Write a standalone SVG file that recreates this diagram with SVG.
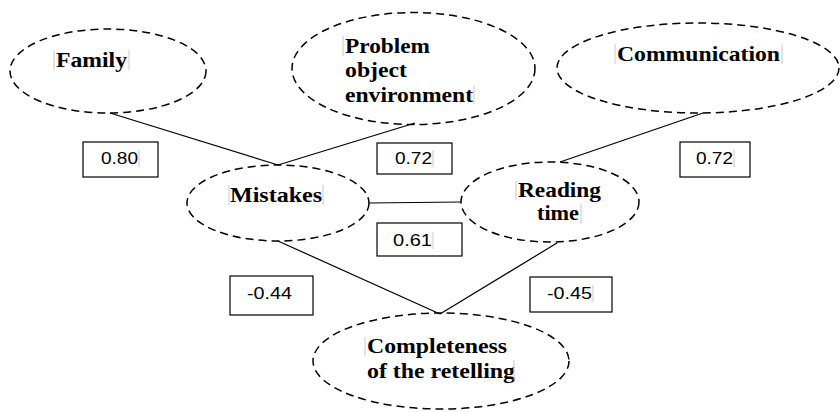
<svg xmlns="http://www.w3.org/2000/svg" width="840" height="412" viewBox="0 0 840 412">
<style>
.node ellipse{fill:none;stroke:#000;stroke-width:1.5;stroke-dasharray:8 5}
.lbl{font-family:"Liberation Serif","Times New Roman",serif;font-weight:bold;font-size:21px;fill:#000}
.edges line{stroke:#000;stroke-width:1.2}
.box rect{fill:#fff;stroke:#000;stroke-width:1.2}
.num{font-family:"Liberation Sans",Arial,sans-serif;font-size:17px;fill:#000}
.cur line{stroke:#c8c8c8;stroke-width:1}
</style>
<rect width="840" height="412" fill="#fff"/>
<g id="connectors" class="edges">
<line x1="110" y1="113" x2="278" y2="165"/>
<line x1="415" y1="123" x2="278" y2="165"/>
<line x1="703" y1="113" x2="560" y2="162"/>
<line x1="369" y1="203" x2="461" y2="202"/>
<line x1="278" y1="241" x2="440" y2="314"/>
<line x1="557" y1="243" x2="440" y2="314"/>
</g>
<g id="family" class="node">
<ellipse cx="108" cy="71" rx="98" ry="42"/>
<text class="lbl" x="56" y="67" textLength="71" lengthAdjust="spacingAndGlyphs">Family</text>
</g>
<g id="problem" class="node">
<ellipse cx="413.5" cy="68.5" rx="121.5" ry="56"/>
<text class="lbl" x="345" y="53" textLength="85" lengthAdjust="spacingAndGlyphs">Problem</text>
<text class="lbl" x="345" y="77" textLength="62" lengthAdjust="spacingAndGlyphs">object</text>
<text class="lbl" x="345" y="102" textLength="128" lengthAdjust="spacingAndGlyphs">environment</text>
</g>
<g id="communication" class="node">
<ellipse cx="698" cy="68" rx="141" ry="45"/>
<text class="lbl" x="617" y="61" textLength="163" lengthAdjust="spacingAndGlyphs">Communication</text>
</g>
<g id="mistakes" class="node">
<ellipse cx="278" cy="203" rx="91" ry="38"/>
<text class="lbl" x="230" y="202" textLength="92" lengthAdjust="spacingAndGlyphs">Mistakes</text>
</g>
<g id="reading" class="node">
<ellipse cx="550" cy="202" rx="89" ry="40"/>
<text class="lbl" x="518" y="197" textLength="83" lengthAdjust="spacingAndGlyphs">Reading</text>
<text class="lbl" x="537" y="220" textLength="42" lengthAdjust="spacingAndGlyphs">time</text>
</g>
<g id="completeness" class="node">
<ellipse cx="441" cy="361" rx="128" ry="48"/>
<text class="lbl" x="367" y="353" textLength="140" lengthAdjust="spacingAndGlyphs">Completeness</text>
<text class="lbl" x="367" y="378" textLength="148" lengthAdjust="spacingAndGlyphs">of the retelling</text>
</g>
<g id="w1" class="box"><rect x="83" y="142" width="75" height="35"/><text class="num" x="101" y="164" textLength="37" lengthAdjust="spacingAndGlyphs">0.80</text></g>
<g id="w2" class="box"><rect x="377" y="143" width="75" height="31"/><text class="num" x="395" y="164" textLength="37" lengthAdjust="spacingAndGlyphs">0.72</text></g>
<g id="w3" class="box"><rect x="680" y="142" width="70" height="35"/><text class="num" x="696" y="164" textLength="37" lengthAdjust="spacingAndGlyphs">0.72</text></g>
<g id="w4" class="box"><rect x="377" y="223" width="85" height="33"/><text class="num" x="393" y="246" textLength="39" lengthAdjust="spacingAndGlyphs">0.61</text></g>
<g id="w5" class="box"><rect x="230" y="276" width="83" height="39"/><text class="num" x="247" y="299" textLength="45" lengthAdjust="spacingAndGlyphs">-0.44</text></g>
<g id="w6" class="box"><rect x="530" y="277" width="82" height="35"/><text class="num" x="547" y="299" textLength="45" lengthAdjust="spacingAndGlyphs">-0.45</text></g>
<g class="cur">
<line x1="54" y1="50" x2="54" y2="70"/><line x1="129" y1="50" x2="129" y2="70"/>
<line x1="343" y1="36" x2="343" y2="56"/><line x1="474" y1="86" x2="474" y2="104"/>
<line x1="615" y1="44" x2="615" y2="64"/><line x1="782" y1="44" x2="782" y2="64"/>
<line x1="229" y1="185" x2="229" y2="205"/><line x1="323" y1="185" x2="323" y2="205"/>
<line x1="516" y1="181" x2="516" y2="200"/><line x1="581" y1="204" x2="581" y2="224"/>
<line x1="365" y1="337" x2="365" y2="356"/><line x1="514" y1="360" x2="514" y2="380"/>
<line x1="139" y1="150" x2="139" y2="167"/><line x1="433" y1="150" x2="433" y2="167"/>
<line x1="734" y1="150" x2="734" y2="167"/><line x1="433" y1="232" x2="433" y2="249"/>
<line x1="593" y1="285" x2="593" y2="302"/>
</g>
</svg>
